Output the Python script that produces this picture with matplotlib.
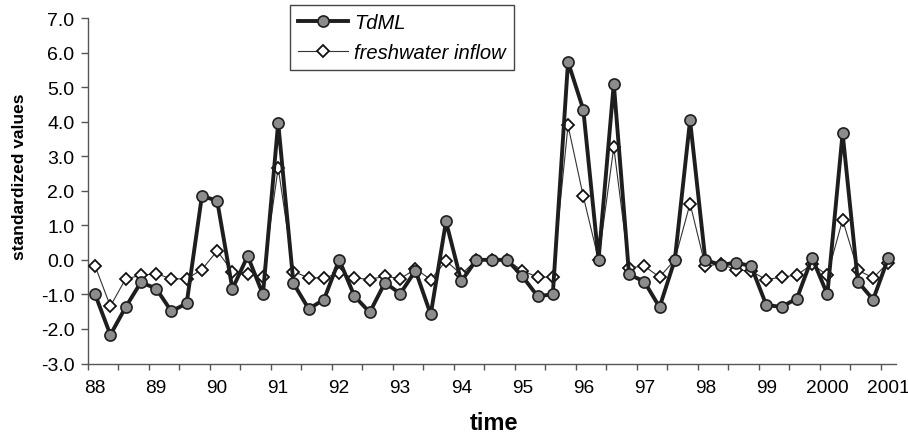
import matplotlib
matplotlib.use("Agg")
import matplotlib.pyplot as plt
import numpy as np

plt.rcParams['font.family'] = ['Liberation Sans', 'DejaVu Sans']

year_labels = ["88", "89", "90", "91", "92", "93", "94", "95", "96", "97",
               "98", "99", "2000", "2001"]

tdml = [-1.00, -2.17, -1.37, -0.65, -0.83, -1.49, -1.26, 1.85, 1.71, -0.84,
        0.11, -1.00, 3.97, -0.68, -1.42, -1.15, 0.00, -1.05, -1.52, -0.66,
        -0.98, -0.31, -1.58, 1.11, -0.62, 0.00, 0.00, 0.00, -0.47, -1.05,
        -1.00, 5.73, 4.35, 0.00, 5.10, -0.42, -0.63, -1.37, 0.00, 4.04,
        0.00, -0.15, -0.08, -0.18, -1.31, -1.36, -1.12, 0.06, -1.00, 3.67,
        -0.63, -1.15, 0.06]

freshwater = [-0.18, -1.34, -0.55, -0.45, -0.40, -0.55, -0.55, -0.28, 0.26, -0.34,
              -0.40, -0.50, 2.67, -0.34, -0.52, -0.52, -0.39, -0.52, -0.57, -0.47,
              -0.55, -0.26, -0.57, -0.03, -0.42, 0.00, 0.00, 0.00, -0.31, -0.50,
              -0.50, 3.89, 1.84, 0.00, 3.26, -0.23, -0.18, -0.50, 0.00, 1.63,
              -0.18, -0.12, -0.28, -0.33, -0.57, -0.50, -0.44, -0.13, -0.44, 1.16,
              -0.30, -0.52, -0.08]

W, H = 908, 435
fig = plt.figure(figsize=(W / 100, H / 100), dpi=100)
ax = fig.add_axes([87.5 / W, 1 - 364.5 / H, (896 - 87.5) / W, (364.5 - 19) / H])

x = np.arange(len(tdml))
ax.plot(x, freshwater, color='#333333', lw=0.8, marker='D', ms=6.5,
        mfc='white', mec='#111111', mew=1.3, label='freshwater inflow', zorder=3)
ax.plot(x, tdml, color='#1e1e1e', lw=2.8, marker='o', ms=8,
        mfc='#8c8c8c', mec='#1e1e1e', mew=1.2, label='TdML', zorder=4)

ax.set_xlim(-0.5, len(tdml) - 0.5)
ax.set_ylim(-3, 7)
ax.set_yticks(np.arange(-3, 8, 1))
ax.set_yticklabels([f"{v:.1f}" for v in np.arange(-3, 8, 1)])
ax.set_xticks(np.arange(0, len(tdml), 4))
ax.set_xticklabels(year_labels)
ax.set_xticks(np.arange(-0.5, len(tdml), 2), minor=True)
ax.tick_params(axis='x', which='major', length=0, pad=11, labelsize=13.8)
ax.tick_params(axis='x', which='minor', length=4, width=1, color='#555555', direction='out')
ax.tick_params(axis='y', length=5, width=1, color='#555555', pad=4.3, labelsize=14)

for s in ['top', 'right']:
    ax.spines[s].set_visible(False)
for s in ['left', 'bottom']:
    ax.spines[s].set_color('#555555')
    ax.spines[s].set_linewidth(1)

fig.text(494 / W, 1 - 430 / H, 'time', fontsize=17, fontweight='bold',
         ha='center', va='baseline')
ax.set_ylabel('standardized values', fontsize=12.5, fontweight='bold')
ax.yaxis.set_label_coords(-0.0745, 0.543)

handles, labels = ax.get_legend_handles_labels()
leg = fig.legend(handles[::-1], labels[::-1], loc='upper left',
                 bbox_to_anchor=(290 / W, 1 - 6 / H), frameon=True, fancybox=False,
                 edgecolor='#444444', framealpha=1, borderpad=0.4,
                 handlelength=2.5, handletextpad=0.3, labelspacing=0.55,
                 borderaxespad=0, prop={'size': 14.5, 'style': 'italic'})
leg.get_frame().set_linewidth(1)

fig.savefig('out.png', dpi=100)
